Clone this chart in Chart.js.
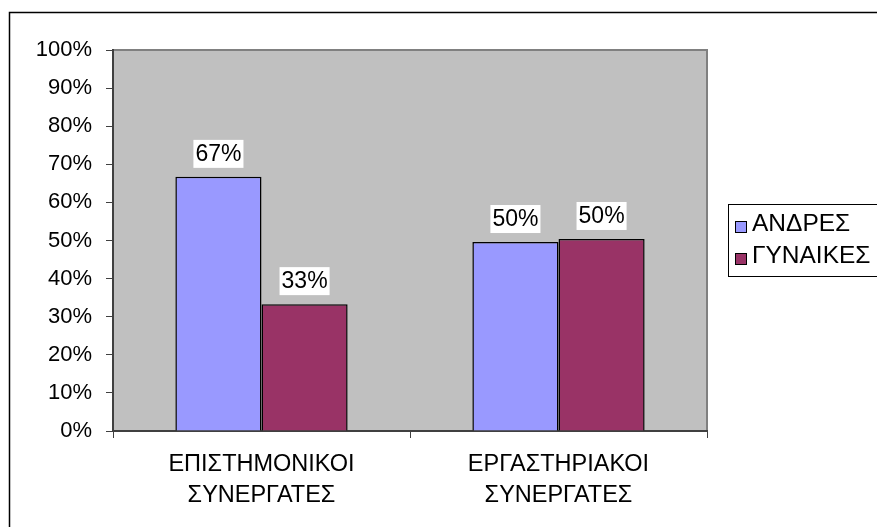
<!DOCTYPE html>
<html>
<head>
<meta charset="utf-8">
<script src="https://cdn.jsdelivr.net/npm/chart.js@4.4.1/dist/chart.umd.min.js"></script>
<style>
  html, body { margin: 0; padding: 0; background: #fff; }
  #wrap { position: relative; width: 877px; height: 527px; }
</style>
</head>
<body>
<div id="wrap"><canvas id="chart" width="877" height="527"></canvas></div>
<script>
// data (percent)
const categories = [["ΕΠΙΣΤΗΜΟΝΙΚΟΙ", "ΣΥΝΕΡΓΑΤΕΣ"], ["ΕΡΓΑΣΤΗΡΙΑΚΟΙ", "ΣΥΝΕΡΓΑΤΕΣ"]];
const seriesNames = ["ΑΝΔΡΕΣ", "ΓΥΝΑΙΚΕΣ"];
const andres = [66.7, 49.6];
const gynaikes = [33.3, 50.4];
const yTicks = ["0%", "10%", "20%", "30%", "40%", "50%", "60%", "70%", "80%", "90%", "100%"];
const seriesColors = ["#9999FF", "#993366"];

const FONT = "'Liberation Sans', Arial, sans-serif";

// grey plot area + outer frame
const backdrop = {
  id: "backdrop",
  beforeDraw(chart) {
    const { ctx, chartArea: a } = chart;
    ctx.save();
    ctx.fillStyle = "#C0C0C0";
    ctx.fillRect(a.left, a.top, a.right - a.left, a.bottom - a.top);
    ctx.strokeStyle = "#808080";
    ctx.lineWidth = 2;
    ctx.beginPath();
    ctx.moveTo(a.left, a.top);
    ctx.lineTo(a.right, a.top);
    ctx.lineTo(a.right, a.bottom);
    ctx.stroke();
    // outer chart frame
    ctx.strokeStyle = "#000";
    ctx.lineWidth = 1.5;
    ctx.beginPath();
    ctx.moveTo(9.5, 540);
    ctx.lineTo(9.5, 12.5);
    ctx.lineTo(890, 12.5);
    ctx.stroke();
    ctx.restore();
  }
};

// value labels in white boxes + legend
const extras = {
  id: "extras",
  afterDatasetsDraw(chart) {
    const ctx = chart.ctx;
    ctx.save();
    ctx.font = "23px " + FONT;
    ctx.textAlign = "center";
    ctx.textBaseline = "middle";
    chart.data.datasets.forEach((ds, i) => {
      chart.getDatasetMeta(i).data.forEach((bar, j) => {
        const txt = Math.round(ds.data[j]) + "%";
        const w = ctx.measureText(txt).width + 4;
        const cy = bar.y - 23;
        ctx.fillStyle = "#fff";
        ctx.fillRect(bar.x - w / 2, cy - 14, w, 28);
        ctx.fillStyle = "#000";
        ctx.fillText(txt, bar.x, cy + 1);
      });
    });

    // legend
    ctx.font = "24.5px " + FONT;
    ctx.strokeStyle = "#000";
    ctx.lineWidth = 1;
    ctx.strokeRect(728.5, 204.5, 160, 72);
    ctx.textAlign = "left";
    seriesNames.forEach((name, i) => {
      const ty = 224 + i * 32;
      ctx.fillStyle = seriesColors[i];
      ctx.fillRect(735, ty - 3, 12, 12);
      ctx.strokeRect(735.5, ty - 2.5, 11, 11);
      ctx.fillStyle = "#000";
      ctx.fillText(name, 752, ty);
    });
    ctx.restore();
  }
};

new Chart(document.getElementById("chart"), {
  type: "bar",
  data: {
    labels: categories,
    datasets: [
      {
        label: seriesNames[0],
        data: andres,
        backgroundColor: seriesColors[0],
        borderColor: "#000",
        borderWidth: 1.5
      },
      {
        label: seriesNames[1],
        data: gynaikes,
        backgroundColor: seriesColors[1],
        borderColor: "#000",
        borderWidth: 1.5
      }
    ]
  },
  options: {
    responsive: false,
    animation: false,
    devicePixelRatio: 1,
    layout: { padding: { left: 0, top: 50, right: 170, bottom: 0 } },
    datasets: { bar: { barPercentage: 1, categoryPercentage: 0.58 } },
    plugins: { legend: { display: false }, tooltip: { enabled: false } },
    scales: {
      x: {
        grid: { display: true, offset: true, drawOnChartArea: false, color: "#404040", tickLength: 7 },
        border: { color: "#404040", width: 2 },
        ticks: { color: "#000", padding: 11, font: { family: FONT, size: 23.5, lineHeight: 1.33 } },
        afterFit(s) { s.height = 96; }
      },
      y: {
        min: 0,
        max: 100,
        grid: { display: true, drawOnChartArea: false, color: "#404040", tickLength: 7 },
        border: { color: "#404040", width: 2 },
        ticks: {
          stepSize: 10,
          color: "#000",
          padding: 14,
          font: { family: FONT, size: 22 },
          callback: (v) => yTicks[Math.round(v / 10)]
        },
        afterFit(s) { s.width = 113; }
      }
    }
  },
  plugins: [backdrop, extras]
});
</script>
</body>
</html>
